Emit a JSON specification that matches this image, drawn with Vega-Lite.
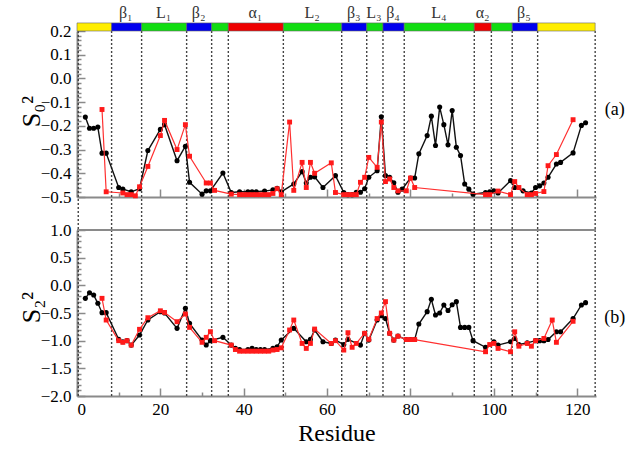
{
  "$schema": "https://vega.github.io/schema/vega-lite/v6.json",
  "width": 519,
  "height": 365,
  "autosize": {"type": "none"},
  "padding": {"left": 77, "top": 31, "right": 35, "bottom": 55},
  "background": "white",
  "config": {
    "font": "Times New Roman",
    "view": {"stroke": null},
    "text": {"font": "Times New Roman"},
    "axis": {
      "labelFont": "Times New Roman", "titleFont": "Times New Roman",
      "labelFontSize": 17, "labelColor": "black",
      "domainColor": "#8a8a8a", "domainWidth": 2,
      "tickColor": "#8a8a8a", "tickWidth": 1.5,
      "grid": false, "titleFontWeight": "normal", "titleColor": "black"
    }
  },
  "datasets": {
    "vl": [{"x": 0.3}, {"x": 8.3}, {"x": 15.5}, {"x": 26.3}, {"x": 32.3}, {"x": 36.3}, {"x": 49.5}, {"x": 63.5}, {"x": 69.5}, {"x": 73.4}, {"x": 78.5}, {"x": 95.3}, {"x": 99.4}, {"x": 104.4}, {"x": 110.5}, {"x": 124.3}],
    "seg": [
      {"a": 0, "b": 8.3, "c": "#ffee00"},
      {"a": 8.3, "b": 15.5, "c": "#0000ee"},
      {"a": 15.5, "b": 26.3, "c": "#11dd11"},
      {"a": 26.3, "b": 32.3, "c": "#0000ee"},
      {"a": 32.3, "b": 36.3, "c": "#11dd11"},
      {"a": 36.3, "b": 49.5, "c": "#ee0000"},
      {"a": 49.5, "b": 63.5, "c": "#11dd11"},
      {"a": 63.5, "b": 69.5, "c": "#0000ee"},
      {"a": 69.5, "b": 73.4, "c": "#11dd11"},
      {"a": 73.4, "b": 78.5, "c": "#0000ee"},
      {"a": 78.5, "b": 95.3, "c": "#11dd11"},
      {"a": 95.3, "b": 99.4, "c": "#ee0000"},
      {"a": 99.4, "b": 104.4, "c": "#11dd11"},
      {"a": 104.4, "b": 110.5, "c": "#0000ee"},
      {"a": 110.5, "b": 124.3, "c": "#ffee00"}
    ],
    "lab": [
      {"x": 11.7, "t": "β₁"}, {"x": 20.8, "t": "L₁"}, {"x": 29.2, "t": "β₂"}, {"x": 42.8, "t": "α₁"},
      {"x": 56.4, "t": "L₂"}, {"x": 66.4, "t": "β₃"}, {"x": 71.2, "t": "L₃"}, {"x": 75.8, "t": "β₄"},
      {"x": 86.8, "t": "L₄"}, {"x": 97.3, "t": "α₂"}, {"x": 107.2, "t": "β₅"}
    ],
    "ak": [
      {"r": 2, "v": -0.163}, {"r": 3, "v": -0.21}, {"r": 4, "v": -0.21}, {"r": 5, "v": -0.205}, {"r": 6, "v": -0.315}, {"r": 7, "v": -0.315},
      {"r": 10, "v": -0.46}, {"r": 11, "v": -0.467}, {"r": 13, "v": -0.478}, {"r": 15, "v": -0.465}, {"r": 17, "v": -0.304}, {"r": 20, "v": -0.215},
      {"r": 21, "v": -0.195}, {"r": 24, "v": -0.347}, {"r": 26, "v": -0.286}, {"r": 27, "v": -0.438}, {"r": 30, "v": -0.488}, {"r": 31, "v": -0.474},
      {"r": 32, "v": -0.474}, {"r": 35, "v": -0.399}, {"r": 37, "v": -0.481}, {"r": 39, "v": -0.478}, {"r": 41, "v": -0.478}, {"r": 42, "v": -0.478},
      {"r": 43, "v": -0.478}, {"r": 45, "v": -0.475}, {"r": 47, "v": -0.47}, {"r": 48, "v": -0.463}, {"r": 49, "v": -0.478}, {"r": 52, "v": -0.445},
      {"r": 54, "v": -0.393}, {"r": 55, "v": -0.441}, {"r": 56, "v": -0.417}, {"r": 57, "v": -0.415}, {"r": 59, "v": -0.46}, {"r": 62, "v": -0.41},
      {"r": 64, "v": -0.481}, {"r": 65, "v": -0.49}, {"r": 66, "v": -0.49}, {"r": 67, "v": -0.48}, {"r": 68, "v": -0.48}, {"r": 69, "v": -0.465},
      {"r": 70, "v": -0.417}, {"r": 72, "v": -0.389}, {"r": 73, "v": -0.162}, {"r": 74, "v": -0.41}, {"r": 75, "v": -0.417}, {"r": 76, "v": -0.44},
      {"r": 77, "v": -0.48}, {"r": 78, "v": -0.467}, {"r": 80, "v": -0.42}, {"r": 81, "v": -0.42}, {"r": 82, "v": -0.318}, {"r": 84, "v": -0.241},
      {"r": 85, "v": -0.159}, {"r": 86, "v": -0.283}, {"r": 87, "v": -0.121}, {"r": 88, "v": -0.195}, {"r": 89, "v": -0.28}, {"r": 90, "v": -0.135},
      {"r": 91, "v": -0.29}, {"r": 92, "v": -0.325}, {"r": 93, "v": -0.445}, {"r": 94, "v": -0.467}, {"r": 95, "v": -0.488}, {"r": 98, "v": -0.481},
      {"r": 99, "v": -0.478}, {"r": 100, "v": -0.474}, {"r": 101, "v": -0.483}, {"r": 104, "v": -0.431}, {"r": 105, "v": -0.46}, {"r": 107, "v": -0.474},
      {"r": 109, "v": -0.483}, {"r": 110, "v": -0.46}, {"r": 111, "v": -0.453}, {"r": 112, "v": -0.441}, {"r": 113, "v": -0.417}, {"r": 115, "v": -0.361},
      {"r": 116, "v": -0.354}, {"r": 119, "v": -0.314}, {"r": 121, "v": -0.198}, {"r": 122, "v": -0.187}
    ],
    "ar": [
      {"r": 6, "v": -0.131}, {"r": 7, "v": -0.478}, {"r": 11, "v": -0.483}, {"r": 12, "v": -0.49}, {"r": 13, "v": -0.49}, {"r": 14, "v": -0.495},
      {"r": 15, "v": -0.457}, {"r": 17, "v": -0.371}, {"r": 20, "v": -0.241}, {"r": 21, "v": -0.177}, {"r": 24, "v": -0.3}, {"r": 26, "v": -0.195},
      {"r": 27, "v": -0.328}, {"r": 31, "v": -0.441}, {"r": 32, "v": -0.441}, {"r": 33, "v": -0.472}, {"r": 37, "v": -0.488}, {"r": 39, "v": -0.49},
      {"r": 40, "v": -0.49}, {"r": 41, "v": -0.49}, {"r": 42, "v": -0.49}, {"r": 43, "v": -0.49}, {"r": 44, "v": -0.49}, {"r": 45, "v": -0.49},
      {"r": 46, "v": -0.49}, {"r": 47, "v": -0.485}, {"r": 48, "v": -0.465}, {"r": 49, "v": -0.49}, {"r": 51, "v": -0.184}, {"r": 52, "v": -0.472},
      {"r": 54, "v": -0.354}, {"r": 55, "v": -0.46}, {"r": 56, "v": -0.354}, {"r": 57, "v": -0.4}, {"r": 61, "v": -0.356}, {"r": 62, "v": -0.481},
      {"r": 64, "v": -0.49}, {"r": 65, "v": -0.49}, {"r": 66, "v": -0.49}, {"r": 67, "v": -0.49}, {"r": 68, "v": -0.438}, {"r": 69, "v": -0.417},
      {"r": 70, "v": -0.333}, {"r": 72, "v": -0.375}, {"r": 73, "v": -0.184}, {"r": 74, "v": -0.435}, {"r": 75, "v": -0.424}, {"r": 76, "v": -0.46},
      {"r": 77, "v": -0.474}, {"r": 79, "v": -0.474}, {"r": 80, "v": -0.42}, {"r": 81, "v": -0.46}, {"r": 98, "v": -0.49}, {"r": 99, "v": -0.49},
      {"r": 101, "v": -0.475}, {"r": 104, "v": -0.49}, {"r": 105, "v": -0.435}, {"r": 106, "v": -0.46}, {"r": 108, "v": -0.49}, {"r": 109, "v": -0.49},
      {"r": 110, "v": -0.485}, {"r": 112, "v": -0.477}, {"r": 113, "v": -0.368}, {"r": 115, "v": -0.321}, {"r": 119, "v": -0.174}
    ],
    "bk": [
      {"r": 2, "v": -0.235}, {"r": 3, "v": -0.133}, {"r": 4, "v": -0.175}, {"r": 5, "v": -0.325}, {"r": 6, "v": -0.494}, {"r": 7, "v": -0.494},
      {"r": 10, "v": -0.976}, {"r": 11, "v": -1.02}, {"r": 12, "v": -1.0}, {"r": 13, "v": -1.08}, {"r": 15, "v": -0.898}, {"r": 17, "v": -0.627},
      {"r": 20, "v": -0.476}, {"r": 21, "v": -0.5}, {"r": 24, "v": -0.777}, {"r": 26, "v": -0.416}, {"r": 27, "v": -0.687}, {"r": 30, "v": -0.988},
      {"r": 31, "v": -1.078}, {"r": 32, "v": -1.0}, {"r": 35, "v": -0.94}, {"r": 37, "v": -1.08}, {"r": 38, "v": -1.14}, {"r": 39, "v": -1.16},
      {"r": 41, "v": -1.16}, {"r": 42, "v": -1.14}, {"r": 43, "v": -1.16}, {"r": 44, "v": -1.16}, {"r": 45, "v": -1.16}, {"r": 47, "v": -1.14},
      {"r": 48, "v": -1.11}, {"r": 49, "v": -0.988}, {"r": 52, "v": -0.777}, {"r": 55, "v": -1.02}, {"r": 56, "v": -0.976}, {"r": 57, "v": -0.807},
      {"r": 59, "v": -1.02}, {"r": 61, "v": -1.05}, {"r": 62, "v": -0.99}, {"r": 64, "v": -1.07}, {"r": 65, "v": -0.976}, {"r": 68, "v": -1.08},
      {"r": 69, "v": -0.867}, {"r": 70, "v": -0.99}, {"r": 72, "v": -0.627}, {"r": 73, "v": -0.55}, {"r": 74, "v": -0.6}, {"r": 75, "v": -0.867},
      {"r": 76, "v": -0.99}, {"r": 77, "v": -0.916}, {"r": 79, "v": -0.98}, {"r": 80, "v": -0.98}, {"r": 81, "v": -0.98}, {"r": 82, "v": -0.7},
      {"r": 84, "v": -0.476}, {"r": 85, "v": -0.253}, {"r": 86, "v": -0.536}, {"r": 87, "v": -0.5}, {"r": 88, "v": -0.355}, {"r": 89, "v": -0.456},
      {"r": 90, "v": -0.35}, {"r": 91, "v": -0.295}, {"r": 92, "v": -0.76}, {"r": 93, "v": -0.76}, {"r": 94, "v": -0.76}, {"r": 95, "v": -1.0},
      {"r": 98, "v": -1.12}, {"r": 100, "v": -1.02}, {"r": 101, "v": -1.08}, {"r": 104, "v": -1.02}, {"r": 105, "v": -0.96}, {"r": 106, "v": -1.07},
      {"r": 108, "v": -1.04}, {"r": 110, "v": -1.0}, {"r": 111, "v": -1.0}, {"r": 112, "v": -1.0}, {"r": 113, "v": -0.98}, {"r": 115, "v": -0.838},
      {"r": 116, "v": -0.838}, {"r": 119, "v": -0.6}, {"r": 121, "v": -0.355}, {"r": 122, "v": -0.313}
    ],
    "br": [
      {"r": 6, "v": -0.235}, {"r": 7, "v": -0.627}, {"r": 10, "v": -1.0}, {"r": 11, "v": -1.03}, {"r": 12, "v": -1.0}, {"r": 13, "v": -1.08},
      {"r": 15, "v": -0.795}, {"r": 17, "v": -0.585}, {"r": 20, "v": -0.46}, {"r": 21, "v": -0.49}, {"r": 24, "v": -0.657}, {"r": 26, "v": -0.518},
      {"r": 27, "v": -0.76}, {"r": 30, "v": -1.03}, {"r": 31, "v": -0.94}, {"r": 32, "v": -0.838}, {"r": 33, "v": -1.0}, {"r": 37, "v": -1.08},
      {"r": 38, "v": -1.16}, {"r": 39, "v": -1.19}, {"r": 40, "v": -1.19}, {"r": 41, "v": -1.19}, {"r": 42, "v": -1.19}, {"r": 43, "v": -1.19},
      {"r": 44, "v": -1.19}, {"r": 45, "v": -1.19}, {"r": 46, "v": -1.19}, {"r": 47, "v": -1.17}, {"r": 48, "v": -1.16}, {"r": 49, "v": -1.13},
      {"r": 51, "v": -0.807}, {"r": 52, "v": -0.627}, {"r": 54, "v": -1.05}, {"r": 55, "v": -1.14}, {"r": 56, "v": -1.05}, {"r": 57, "v": -0.79},
      {"r": 61, "v": -1.05}, {"r": 62, "v": -1.0}, {"r": 64, "v": -1.17}, {"r": 65, "v": -0.856}, {"r": 66, "v": -1.12}, {"r": 67, "v": -1.05},
      {"r": 69, "v": -0.867}, {"r": 70, "v": -0.976}, {"r": 72, "v": -0.6}, {"r": 73, "v": -0.5}, {"r": 74, "v": -0.295}, {"r": 75, "v": -0.867},
      {"r": 76, "v": -0.99}, {"r": 77, "v": -0.92}, {"r": 79, "v": -0.98}, {"r": 80, "v": -0.98}, {"r": 81, "v": -0.98}, {"r": 98, "v": -1.2},
      {"r": 99, "v": -1.07}, {"r": 100, "v": -1.05}, {"r": 101, "v": -1.14}, {"r": 104, "v": -1.2}, {"r": 105, "v": -0.84}, {"r": 106, "v": -1.1},
      {"r": 108, "v": -1.05}, {"r": 109, "v": -1.1}, {"r": 110, "v": -1.0}, {"r": 112, "v": -0.96}, {"r": 114, "v": -0.627}, {"r": 115, "v": -1.03},
      {"r": 119, "v": -0.65}
    ],
    "tags": [{"x": 129, "ya": -0.133, "yb": -0.59}]
  },
  "layer": [
    {
      "layer": [
        {
          "data": {"name": "vl"},
          "mark": {"type": "rule", "strokeDash": [2, 2], "color": "#444", "strokeWidth": 1.4},
          "encoding": {
            "x": {"field": "x", "type": "quantitative", "scale": {"domain": [0, 124.5], "nice": false, "zero": false},
                  "axis": {"orient": "bottom", "offset": -199, "values": [0, 20, 40, 60, 80, 100, 120], "labels": false, "tickSize": -8, "title": null}},
            "y": {"datum": 0.2, "type": "quantitative", "scale": {"domain": [-0.5, 0.2], "range": [166, 0], "nice": false, "zero": false},
                  "axis": {"orient": "left", "values": [-0.48, -0.46, -0.44, -0.42, -0.38, -0.36, -0.34, -0.32, -0.28, -0.26, -0.24, -0.22, -0.18, -0.16, -0.14, -0.12, -0.08, -0.06, -0.04, -0.02, 0.02, 0.04, 0.06, 0.08, 0.12, 0.14, 0.16, 0.18], "labels": false, "domain": false, "tickSize": -4, "title": null}},
            "y2": {"datum": -0.64}
          }
        },
        {
          "data": {"name": "seg"},
          "mark": {"type": "rect", "stroke": "#666", "strokeWidth": 0.6},
          "encoding": {
            "x": {"field": "a", "type": "quantitative", "scale": {"domain": [0, 124.5], "nice": false, "zero": false},
                  "axis": {"orient": "bottom", "offset": -199, "values": [10, 30, 50, 70, 90, 110], "labels": false, "domain": false, "tickSize": -4, "title": null}},
            "x2": {"field": "b"},
            "y": {"datum": 0.2, "type": "quantitative", "scale": {"domain": [-0.5, 0.2], "range": [166, 0], "nice": false, "zero": false}, "axis": null},
            "y2": {"datum": 0.234},
            "color": {"field": "c", "type": "nominal", "scale": null}
          }
        },
        {
          "data": {"name": "lab"},
          "mark": {"type": "text", "font": "Times New Roman", "fontSize": 16, "baseline": "middle", "align": "center", "color": "#333"},
          "encoding": {
            "x": {"field": "x", "type": "quantitative", "scale": {"domain": [0, 124.5], "nice": false, "zero": false}, "axis": null},
            "y": {"datum": 0.276, "type": "quantitative", "scale": {"domain": [-0.5, 0.2], "range": [166, 0], "nice": false, "zero": false}, "axis": null},
            "text": {"field": "t"}
          }
        },
        {
          "data": {"name": "ak"},
          "mark": {"type": "line", "color": "#111", "strokeWidth": 1.4},
          "encoding": {
            "x": {"field": "r", "type": "quantitative", "scale": {"domain": [0, 124.5], "nice": false, "zero": false}, "axis": null},
            "y": {"field": "v", "type": "quantitative", "scale": {"domain": [-0.5, 0.2], "range": [166, 0], "nice": false, "zero": false},
                  "axis": {"orient": "left", "values": [-0.5, -0.4, -0.3, -0.2, -0.1, 0, 0.1, 0.2], "format": ".1f", "tickSize": -8, "labelPadding": 14,
                           "labelFont": "Times New Roman", "titleFont": "Times New Roman",
                           "title": "S₀²", "titleFontSize": 26, "titleAngle": 270, "titleX": -46, "titleY": 80, "titleAlign": "center", "titleBaseline": "middle"}}
          }
        },
        {
          "data": {"name": "ak"},
          "mark": {"type": "point", "shape": "circle", "filled": true, "size": 26, "color": "#000", "opacity": 1},
          "encoding": {
            "x": {"field": "r", "type": "quantitative", "scale": {"domain": [0, 124.5], "nice": false, "zero": false}, "axis": null},
            "y": {"field": "v", "type": "quantitative", "scale": {"domain": [-0.5, 0.2], "range": [166, 0], "nice": false, "zero": false}, "axis": null}
          }
        },
        {
          "data": {"name": "ar"},
          "mark": {"type": "line", "color": "#ff3030", "strokeWidth": 1.2},
          "encoding": {
            "x": {"field": "r", "type": "quantitative", "scale": {"domain": [0, 124.5], "nice": false, "zero": false}, "axis": null},
            "y": {"field": "v", "type": "quantitative", "scale": {"domain": [-0.5, 0.2], "range": [166, 0], "nice": false, "zero": false}, "axis": null}
          }
        },
        {
          "data": {"name": "ar"},
          "mark": {"type": "point", "shape": "square", "filled": true, "size": 24, "color": "#ff1a1a", "opacity": 1},
          "encoding": {
            "x": {"field": "r", "type": "quantitative", "scale": {"domain": [0, 124.5], "nice": false, "zero": false}, "axis": null},
            "y": {"field": "v", "type": "quantitative", "scale": {"domain": [-0.5, 0.2], "range": [166, 0], "nice": false, "zero": false}, "axis": null}
          }
        },
        {
          "data": {"name": "tags"},
          "mark": {"type": "text", "font": "Times New Roman", "fontSize": 18, "baseline": "middle", "align": "center", "text": "(a)"},
          "encoding": {
            "x": {"field": "x", "type": "quantitative", "scale": {"domain": [0, 124.5], "nice": false, "zero": false}, "axis": null},
            "y": {"field": "ya", "type": "quantitative", "scale": {"domain": [-0.5, 0.2], "range": [166, 0], "nice": false, "zero": false}, "axis": null}
          }
        }
      ],
      "resolve": {"axis": {"x": "independent", "y": "independent"}}
    },
    {
      "layer": [
        {
          "data": {"name": "vl"},
          "mark": {"type": "rule", "strokeDash": [2, 2], "color": "#444", "strokeWidth": 1.4},
          "encoding": {
            "x": {"field": "x", "type": "quantitative", "scale": {"domain": [0, 124.5], "nice": false, "zero": false},
                  "axis": {"orient": "bottom", "values": [0, 20, 40, 60, 80, 100, 120], "tickSize": -8, "labelPadding": 13,
                           "labelFont": "Times New Roman", "titleFont": "Times New Roman",
                           "title": "Residue", "titleFontSize": 24, "titlePadding": 4}},
            "y": {"datum": 1.0, "type": "quantitative", "scale": {"domain": [-2, 1], "range": [365, 199], "nice": false, "zero": false},
                  "axis": {"orient": "left", "values": [-1.9, -1.8, -1.7, -1.6, -1.4, -1.3, -1.2, -1.1, -0.9, -0.8, -0.7, -0.6, -0.4, -0.3, -0.2, -0.1, 0.1, 0.2, 0.3, 0.4, 0.6, 0.7, 0.8, 0.9], "labels": false, "domain": false, "tickSize": -4, "title": null}},
            "y2": {"datum": -2.0}
          }
        },
        {
          "data": {"name": "tags"},
          "mark": {"type": "rule", "color": "#8a8a8a", "strokeWidth": 2},
          "encoding": {
            "x": {"datum": 0, "type": "quantitative", "scale": {"domain": [0, 124.5], "nice": false, "zero": false},
                  "axis": {"orient": "bottom", "values": [10, 30, 50, 70, 90, 110], "labels": false, "domain": false, "tickSize": -4, "title": null}},
            "x2": {"datum": 124.5},
            "y": {"datum": 1.0, "type": "quantitative", "scale": {"domain": [-2, 1], "range": [365, 199], "nice": false, "zero": false}, "axis": null}
          }
        },
        {
          "data": {"name": "bk"},
          "mark": {"type": "line", "color": "#111", "strokeWidth": 1.4},
          "encoding": {
            "x": {"field": "r", "type": "quantitative", "scale": {"domain": [0, 124.5], "nice": false, "zero": false}, "axis": null},
            "y": {"field": "v", "type": "quantitative", "scale": {"domain": [-2, 1], "range": [365, 199], "nice": false, "zero": false},
                  "axis": {"orient": "left", "values": [-2, -1.5, -1, -0.5, 0, 0.5, 1], "format": ".1f", "tickSize": -8, "labelPadding": 14,
                           "labelFont": "Times New Roman", "titleFont": "Times New Roman",
                           "title": "S₂²", "titleFontSize": 26, "titleAngle": 270, "titleX": -46, "titleY": 276, "titleAlign": "center", "titleBaseline": "middle"}}
          }
        },
        {
          "data": {"name": "bk"},
          "mark": {"type": "point", "shape": "circle", "filled": true, "size": 26, "color": "#000", "opacity": 1},
          "encoding": {
            "x": {"field": "r", "type": "quantitative", "scale": {"domain": [0, 124.5], "nice": false, "zero": false}, "axis": null},
            "y": {"field": "v", "type": "quantitative", "scale": {"domain": [-2, 1], "range": [365, 199], "nice": false, "zero": false}, "axis": null}
          }
        },
        {
          "data": {"name": "br"},
          "mark": {"type": "line", "color": "#ff3030", "strokeWidth": 1.2},
          "encoding": {
            "x": {"field": "r", "type": "quantitative", "scale": {"domain": [0, 124.5], "nice": false, "zero": false}, "axis": null},
            "y": {"field": "v", "type": "quantitative", "scale": {"domain": [-2, 1], "range": [365, 199], "nice": false, "zero": false}, "axis": null}
          }
        },
        {
          "data": {"name": "br"},
          "mark": {"type": "point", "shape": "square", "filled": true, "size": 24, "color": "#ff1a1a", "opacity": 1},
          "encoding": {
            "x": {"field": "r", "type": "quantitative", "scale": {"domain": [0, 124.5], "nice": false, "zero": false}, "axis": null},
            "y": {"field": "v", "type": "quantitative", "scale": {"domain": [-2, 1], "range": [365, 199], "nice": false, "zero": false}, "axis": null}
          }
        },
        {
          "data": {"name": "tags"},
          "mark": {"type": "text", "font": "Times New Roman", "fontSize": 18, "baseline": "middle", "align": "center", "text": "(b)"},
          "encoding": {
            "x": {"field": "x", "type": "quantitative", "scale": {"domain": [0, 124.5], "nice": false, "zero": false}, "axis": null},
            "y": {"field": "yb", "type": "quantitative", "scale": {"domain": [-2, 1], "range": [365, 199], "nice": false, "zero": false}, "axis": null}
          }
        }
      ],
      "resolve": {"axis": {"x": "independent", "y": "independent"}}
    }
  ],
  "resolve": {"scale": {"y": "independent"}, "axis": {"x": "independent", "y": "independent"}}
}
